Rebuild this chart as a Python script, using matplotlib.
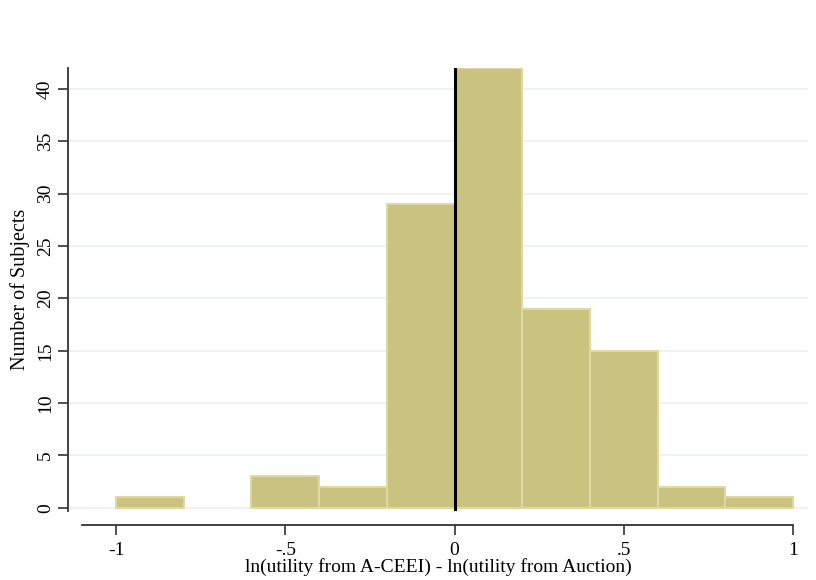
import matplotlib
matplotlib.use("Agg")
import matplotlib.pyplot as plt
import numpy as np

plt.rcParams['font.family'] = ['Liberation Serif', 'DejaVu Serif']

# Histogram bins (width 0.2) and counts
bin_edges = [-1.0, -0.8, -0.6, -0.4, -0.2, 0.0, 0.2, 0.4, 0.6, 0.8, 1.0]
counts = [1, 0, 3, 2, 29, 42, 19, 15, 2, 1]
xticks = [-1, -0.5, 0, 0.5, 1]
xtick_labels = ["-1", "-.5", "0", ".5", "1"]
yticks = [0, 5, 10, 15, 20, 25, 30, 35, 40]

fig = plt.figure(figsize=(8.16, 5.8), dpi=100)
ax = fig.add_axes([68/816, 1 - 511/580, (808 - 68)/816, (511 - 68)/580])

lefts = np.array(bin_edges[:-1])
widths = np.diff(bin_edges)
counts = np.array(counts)
keep = counts > 0  # empty bins draw nothing
ax.bar(lefts[keep], counts[keep], width=widths[keep], align='edge', color='#cac380',
       edgecolor='#ddd8a4', linewidth=1.5, zorder=2)

# reference line at zero
ax.axvline(0, color='black', linewidth=2.2, zorder=3)

ax.set_xlim(-1.142, 1.044)
ax.set_ylim(-0.3, 42)

for y in yticks:
    ax.axhline(y, color='#eaf0f2', linewidth=1.2, zorder=1)

ax.spines['top'].set_visible(False)
ax.spines['right'].set_visible(False)
ax.spines['bottom'].set_position(('outward', 10))
ax.spines['bottom'].set_bounds(-1.1, 1.0)
for s in ['left', 'bottom']:
    ax.spines[s].set_color('#333333')
    ax.spines[s].set_linewidth(1.3)

ax.set_xticks(xticks)
ax.set_xticklabels(xtick_labels)
ax.set_yticks(yticks)
ax.set_yticklabels([str(y) for y in yticks], rotation=90, va='center')
ax.tick_params(axis='both', length=7, width=1.2, color='#333333', labelsize=14)
ax.tick_params(axis='x', pad=5)
ax.tick_params(axis='y', pad=3)

ax.set_xlabel("ln(utility from A-CEEI) - ln(utility from Auction)", fontsize=14, labelpad=0)
ax.set_ylabel("Number of Subjects", fontsize=14.5, labelpad=5)

fig.savefig("out.png", dpi=100)
